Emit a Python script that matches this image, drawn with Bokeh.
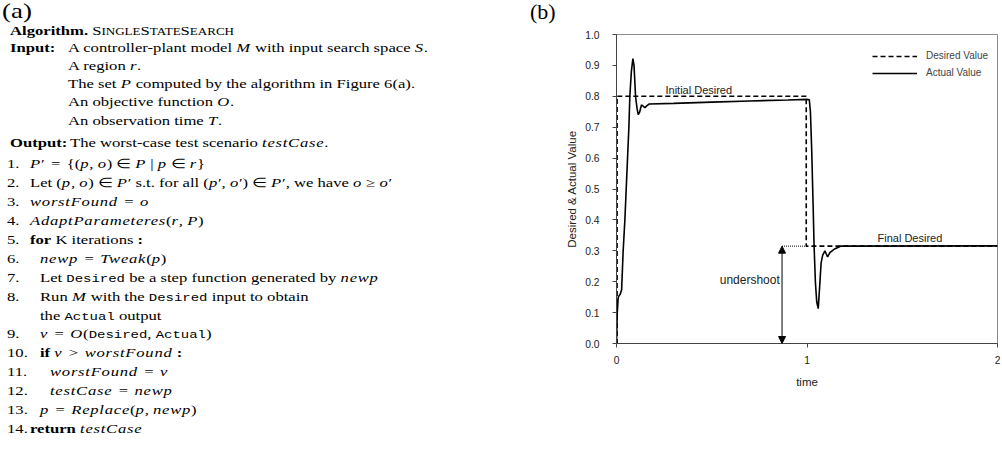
from bokeh.plotting import figure
from bokeh.models import (Range1d, FixedTicker, Label, Arrow, NormalHead, Legend,
                          LegendItem, Div, PrintfTickFormatter)
from bokeh.layouts import row
from bokeh.embed import file_html
from bokeh.resources import INLINE

# ---------------- data ----------------
desired_time = [0.0, 0.003, 0.003, 0.996, 0.996, 2.0]
desired_value = [0.0, 0.0, 0.80, 0.80, 0.315, 0.315]

actual_time = [0.000, 0.004, 0.009, 0.020, 0.027, 0.035, 0.044, 0.051, 0.058, 0.065, 0.070,
               0.078, 0.086, 0.092, 0.100, 0.108, 0.114, 0.122, 0.131, 0.140, 0.149, 0.160,
               0.172, 0.300, 0.500, 0.700, 0.900, 1.000, 1.012, 1.018, 1.025, 1.032, 1.037,
               1.044, 1.051, 1.059, 1.066, 1.074, 1.082, 1.094, 1.108, 1.120, 1.130, 1.145,
               1.176, 2.000]
actual_value = [0.000, 0.100, 0.150, 0.160, 0.175, 0.300, 0.400, 0.500, 0.600, 0.700, 0.800,
                0.880, 0.922, 0.900, 0.800, 0.760, 0.741, 0.750, 0.772, 0.768, 0.763, 0.770,
                0.775, 0.777, 0.781, 0.785, 0.788, 0.790, 0.789, 0.750, 0.620, 0.450, 0.320,
                0.200, 0.135, 0.113, 0.180, 0.260, 0.285, 0.300, 0.280, 0.294, 0.299, 0.306,
                0.315, 0.316]

y_ticks = [0.0, 0.1, 0.2, 0.3, 0.4, 0.5, 0.6, 0.7, 0.8, 0.9, 1.0]
x_ticks = [0, 1, 2]

series_labels = ["Desired Value", "Actual Value"]
undershoot_time = 0.869   # where the undershoot arrow is drawn

# ---------------- left panel: algorithm listing ----------------
SERIF = "'Liberation Serif', 'Times New Roman', serif"
MONO = "'Liberation Mono', 'Courier New', monospace"
FS = 12.5
SX = 1.33


def line(baseline, x, html, size=FS, sx=SX):
    top = baseline - 0.8375 * size
    return ('<div style="position:absolute;left:%.1fpx;top:%.1fpx;white-space:nowrap;'
            'transform-origin:0 0;transform:scaleX(%.3f);font-family:%s;font-size:%.1fpx;'
            'line-height:%.1fpx;color:#000;">%s</div>' % (x, top, sx, SERIF, size, size, html))


def i(t):
    return '<i style="letter-spacing:0.045em;">%s</i>' % t


def b(t):
    return "<b>%s</b>" % t


def tt(t):
    return '<span style="font-family:%s;font-size:10.5px;">%s</span>' % (MONO, t)


def rel(sym):
    return ' <span style="margin:0 0.135em;">%s</span> ' % sym


def smallcaps(words):
    out = []
    for w in words:
        out.append(w[0])
        out.append('<span style="font-size:9.8px;">%s</span>' % w[1:].upper())
    return "".join(out)


sc = smallcaps(["Single", "State", "Search"])
EQ = rel("=")

header = [
    (35.0, 10, b("Algorithm.") + " " + sc),
    (52.3, 10, b("Input:")),
    (52.3, 68.3, "A controller-plant model " + i("M") + " with input search space " + i("S") + "."),
    (70.0, 68.3, "A region " + i("r") + "."),
    (88.3, 68.3, "The set " + i("P") + " computed by the algorithm in Figure 6(a)."),
    (106.7, 68.3, "An objective function " + i("O") + "."),
    (125.0, 68.3, "An observation time " + i("T") + "."),
    (147.0, 10, b("Output:")),
    (147.0, 70.0, "The worst-case test scenario " + i("testCase") + "."),
]

steps = [
    ("1.", 30, i("P") + "&prime;" + EQ + "{(" + i("p") + ", " + i("o") + ") &isin; " + i("P") + " | " + i("p") + " &isin; " + i("r") + "}"),
    ("2.", 30, "Let (" + i("p") + ", " + i("o") + ") &isin; " + i("P") + "&prime; s.t. for all (" + i("p") + "&prime;, " + i("o") + "&prime;) &isin; " + i("P") + "&prime;, we have " + i("o") + " &ge; " + i("o") + "&prime;"),
    ("3.", 30, i("worstFound") + EQ + i("o")),
    ("4.", 30, i("AdaptParameteres") + "(" + i("r") + ", " + i("P") + ")"),
    ("5.", 30, b("for") + " K iterations " + b(":")),
    ("6.", 40, i("newp") + EQ + i("Tweak") + "(" + i("p") + ")"),
    ("7.", 40, "Let " + tt("Desired") + " be a step function generated by " + i("newp")),
    ("8.", 40, "Run " + i("M") + " with the " + tt("Desired") + " input to obtain"),
    ("", 40, "the " + tt("Actual") + " output"),
    ("9.", 40, i("v") + EQ + i("O") + "(" + tt("Desired") + ", " + tt("Actual") + ")"),
    ("10.", 40, b("if") + " " + i("v") + rel("&gt;") + i("worstFound") + " " + b(":")),
    ("11.", 50, i("worstFound") + EQ + i("v")),
    ("12.", 50, i("testCase") + EQ + i("newp")),
    ("13.", 40, i("p") + EQ + i("Replace") + "(" + i("p") + ", " + i("newp") + ")"),
    ("14.", 30, b("return") + " " + i("testCase")),
]

parts = [line(19.3, 1.7, "(a)", size=21.5, sx=1.25)]
for y, x, h in header:
    parts.append(line(y, x, h))
y0, dy = 168.5, 18.93
for k, (num, x, h) in enumerate(steps):
    y = y0 + k * dy
    if num:
        parts.append(line(y, 6.7, num))
    parts.append(line(y, x, h))
parts.append(line(19.8, 530, "(b)", size=22, sx=1.0))

html = ('<div style="position:relative;width:560px;height:451px;overflow:visible;">'
        + "".join(parts) + "</div>")
div = Div(text=html, width=560, height=451, margin=(0, 0, 0, 0))

# ---------------- right panel: chart ----------------
SANS = "Liberation Sans"
p = figure(width=442, height=451, x_range=Range1d(0, 2), y_range=Range1d(0, 1),
           output_backend="svg", toolbar_location=None,
           min_border_left=56, min_border_right=5, min_border_top=34, min_border_bottom=108,
           margin=(0, 0, 0, 0))
p.xgrid.visible = False
p.ygrid.visible = False
p.outline_line_color = "#8a8a8a"
p.outline_line_width = 1
p.background_fill_color = "white"
p.border_fill_color = "white"

for ax in (p.xaxis[0], p.yaxis[0]):
    ax.axis_line_color = "#444444"
    ax.major_tick_line_color = "#444444"
    ax.minor_tick_line_color = None
    ax.major_tick_in = 0
    ax.major_tick_out = 4
    ax.major_label_text_font = SANS
    ax.major_label_text_font_size = "10.3px"
    ax.major_label_text_color = "#222222"
    ax.axis_label_text_font = SANS
    ax.axis_label_text_font_size = "11.5px"
    ax.axis_label_text_font_style = "normal"
    ax.axis_label_text_color = "#222222"

p.yaxis[0].ticker = FixedTicker(ticks=y_ticks)
p.yaxis[0].formatter = PrintfTickFormatter(format="%.1f")
p.yaxis[0].major_label_standoff = 13
p.yaxis[0].axis_label = "Desired & Actual Value"
p.yaxis[0].axis_label_standoff = 4

p.xaxis[0].ticker = FixedTicker(ticks=x_ticks)
p.xaxis[0].formatter = PrintfTickFormatter(format="%d")
p.xaxis[0].major_label_standoff = 8
p.xaxis[0].axis_label = "time"
p.xaxis[0].axis_label_standoff = 9

r_des = p.line(desired_time, desired_value, line_color="black", line_width=1.6, line_dash="5 3")
r_act = p.line(actual_time, actual_value, line_color="black", line_width=1.6)

legend = Legend(items=[LegendItem(label=series_labels[0], renderers=[r_des]),
                       LegendItem(label=series_labels[1], renderers=[r_act])],
                location=(256, 262.5), padding=0, margin=0, spacing=1,
                glyph_width=45, glyph_height=16, label_height=16, label_standoff=9,
                label_text_font=SANS, label_text_font_size="10px",
                border_line_color=None, background_fill_alpha=0)
p.add_layout(legend)

# undershoot annotation derived from the data
final_desired = desired_value[-1]
min_actual = min(actual_value)
t_min = actual_time[actual_value.index(min_actual)]
t_drop = desired_time[3]

p.line([undershoot_time, t_drop], [final_desired, final_desired], line_color="black",
       line_width=1, line_dash="1 1")
p.line([undershoot_time, t_min], [min_actual, min_actual], line_color="black",
       line_width=1, line_dash="1 1")
p.add_layout(Arrow(start=NormalHead(size=7, fill_color="black", line_color="black"),
                   end=NormalHead(size=7, fill_color="black", line_color="black"),
                   x_start=undershoot_time, y_start=final_desired,
                   x_end=undershoot_time, y_end=min_actual,
                   line_color="black", line_width=1))

p.add_layout(Label(x=0.257, y=0.822, text="Initial Desired", text_font=SANS,
                   text_font_size="11px", text_baseline="alphabetic", text_color="#222222"))
p.add_layout(Label(x=1.370, y=0.342, text="Final Desired", text_font=SANS,
                   text_font_size="11px", text_baseline="alphabetic", text_color="#222222"))
p.add_layout(Label(x=undershoot_time - 0.012, y=0.206, text="undershoot", text_font=SANS,
                   text_font_size="12px", text_baseline="alphabetic", text_align="right",
                   text_color="#222222"))

layout = row(div, p)
open("out.html", "w").write(file_html(layout, INLINE))
